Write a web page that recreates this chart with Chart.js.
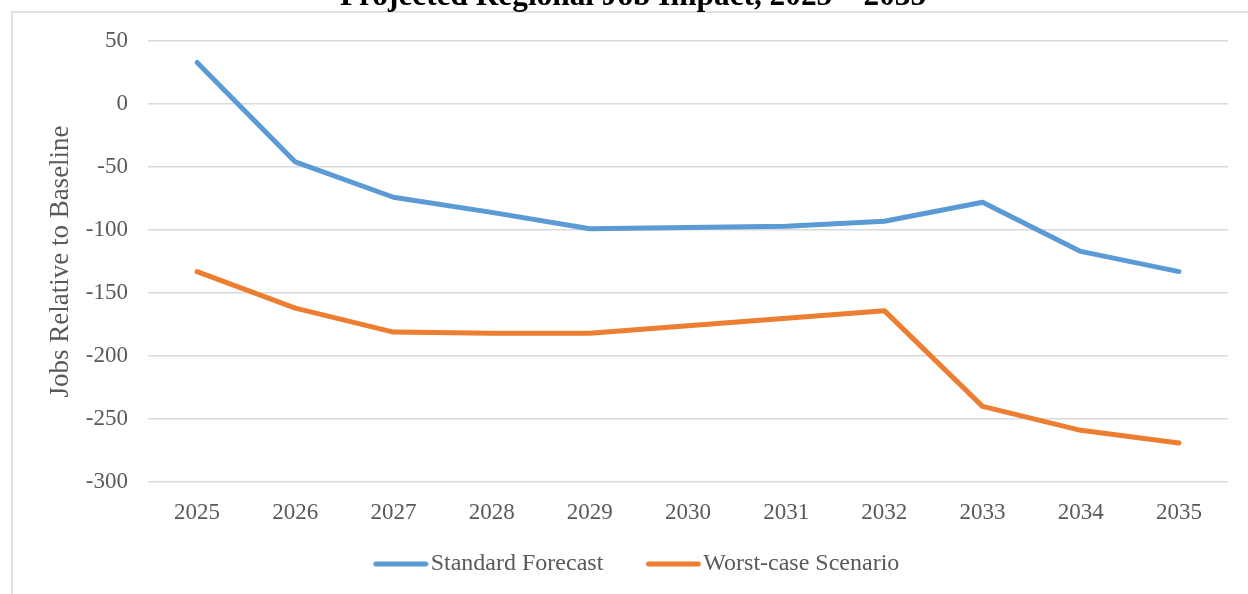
<!DOCTYPE html>
<html>
<head>
<meta charset="utf-8">
<script src="https://cdn.jsdelivr.net/npm/chart.js@4"></script>
<style>
  html, body { margin: 0; padding: 0; background: #fff; }
  #wrap { width: 1248px; height: 594px; }
</style>
</head>
<body>
<div id="wrap"><canvas id="jobsChart" width="1248" height="594"></canvas></div>
<script>
// chart data
const years = ['2025', '2026', '2027', '2028', '2029', '2030', '2031', '2032', '2033', '2034', '2035'];
const standardForecast = [33, -46, -74, -86, -99, -98, -97, -93, -78, -117, -133];
const worstCase = [-133, -162, -181, -182, -182, -176, -170, -164, -240, -259, -269];
const chartTitle = 'Projected Regional Job Impact, 2025 \u2013 2035';
const yTitle = 'Jobs Relative to Baseline';

const serif = 'Liberation Serif';
const textGrey = '#595959';
const blue = '#5B9BD5';
const orange = '#ED7D31';

// legend swatch: a short thick line sitting right before the label text
function legendLine(color) {
    const c = document.createElement('canvas');
    c.width = 80;
    c.height = 8;
    const g = c.getContext('2d');
    g.strokeStyle = color;
    g.lineWidth = 5;
    g.lineCap = 'round';
    g.beginPath();
    g.moveTo(27, 4);
    g.lineTo(77, 4);
    g.stroke();
    return c;
}

// outer frame and the (clipped) title like the source sheet
const framePlugin = {
    id: 'frame',
    beforeDraw(chart) {
        const ctx = chart.ctx;
        ctx.save();
        ctx.fillStyle = '#fff';
        ctx.fillRect(0, 0, chart.width, chart.height);
        ctx.strokeStyle = '#D9D9D9';
        ctx.lineWidth = 1.5;
        ctx.strokeRect(12, 12, chart.width + 20, chart.height + 20);
        ctx.restore();
    },
    afterDraw(chart) {
        const ctx = chart.ctx;
        ctx.save();
        ctx.font = 'bold 31.3px "' + serif + '"';
        ctx.fillStyle = '#000';
        ctx.textAlign = 'center';
        ctx.textBaseline = 'alphabetic';
        ctx.fillText(chartTitle, 633, 5);
        ctx.restore();
    }
};

new Chart(document.getElementById('jobsChart'), {
    type: 'line',
    data: {
        labels: years,
        datasets: [{
            label: 'Standard Forecast',
            data: standardForecast,
            borderColor: blue,
            backgroundColor: blue,
            borderWidth: 5,
            borderCapStyle: 'round',
            borderJoinStyle: 'round',
            pointRadius: 0,
            pointStyle: legendLine(blue),
            tension: 0
        }, {
            label: 'Worst-case Scenario',
            data: worstCase,
            borderColor: orange,
            backgroundColor: orange,
            borderWidth: 5,
            borderCapStyle: 'round',
            borderJoinStyle: 'round',
            pointRadius: 0,
            pointStyle: legendLine(orange),
            tension: 0
        }]
    },
    options: {
        responsive: false,
        animation: false,
        layout: { padding: { top: 41, left: 30, right: 20, bottom: 8 } },
        plugins: {
            title: { display: false },
            tooltip: { enabled: false },
            legend: {
                position: 'bottom',
                labels: {
                    usePointStyle: true,
                    pointStyleWidth: 60,
                    padding: 28,
                    color: textGrey,
                    font: { family: serif, size: 24 }
                }
            }
        },
        scales: {
            x: {
                offset: true,
                grid: { display: false, drawTicks: false },
                border: { display: false },
                ticks: { color: textGrey, padding: 17, font: { family: serif, size: 23 } },
                afterFit(scale) { scale.height = 42; }
            },
            y: {
                min: -300,
                max: 50,
                ticks: { stepSize: 50, color: textGrey, padding: 20, font: { family: serif, size: 23 } },
                grid: { color: '#D9D9D9', lineWidth: 1.5, drawTicks: false },
                border: { display: false },
                title: {
                    display: true,
                    text: yTitle,
                    color: textGrey,
                    padding: { top: 15, bottom: 0 },
                    font: { family: serif, size: 27 }
                },
                afterFit(scale) { scale.width = 118; }
            }
        }
    },
    plugins: [framePlugin]
});
</script>
</body>
</html>
